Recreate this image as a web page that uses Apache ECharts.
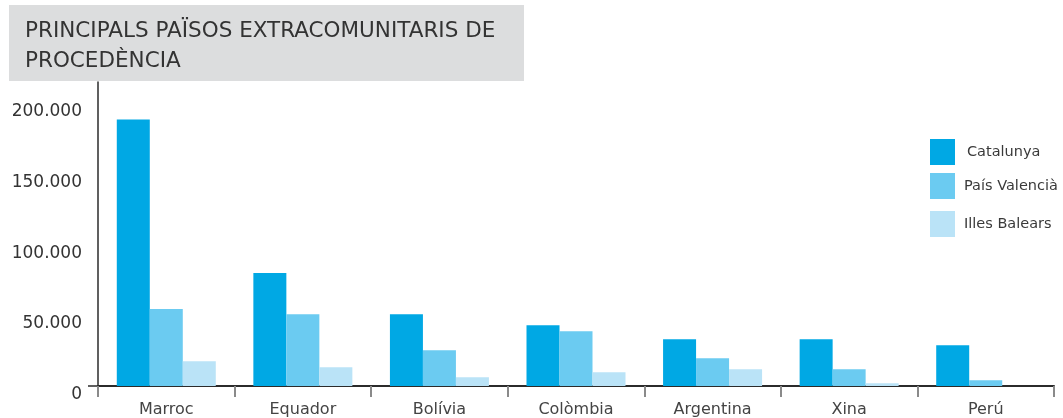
<!DOCTYPE html>
<html>
<head>
<meta charset="utf-8">
<script src="https://cdn.jsdelivr.net/npm/echarts@6/dist/echarts.min.js"></script>
<style>
  html, body { margin: 0; padding: 0; background: #fff; }
  #chart { width: 1063px; height: 418px; }
</style>
</head>
<body>
<div id="chart"></div>
<script>
// countries (categories)
const countries = ['Marroc', 'Equador', 'Bolívia', 'Colòmbia', 'Argentina', 'Xina', 'Perú'];
// values
const catalunya = [188400, 79900, 50800, 43000, 33100, 33100, 28900];
const paisValencia = [54400, 50800, 25300, 38800, 19600, 11800, 4000];
const illesBalears = [17500, 13300, 6200, 9700, 11800, 1900, 0];
const yTicks = [0, 50000, 100000, 150000, 200000];

const titleLines = ['PRINCIPALS PAÏSOS EXTRACOMUNITARIS DE', 'PROCEDÈNCIA'];
const colors = ['#00a8e4', '#6bcbf1', '#bae3f7'];
const font = 'DejaVu Sans';

const chart = echarts.init(document.getElementById('chart'));

function fmt(v) {
  return String(v).replace(/\B(?=(\d{3})+(?!\d))/g, '.');
}

const legendTops = [139, 173, 211];
const legendPad = [7, 4, 4];
const seriesNames = ['Catalunya', 'País Valencià', 'Illes Balears'];

const option = {
  animation: false,
  grid: { left: 98, right: 9, top: 82, bottom: 32, containLabel: false },
  legend: seriesNames.map((n, i) => ({
    data: [n],
    left: 930,
    top: legendTops[i],
    orient: 'vertical',
    icon: 'rect',
    itemWidth: 25,
    itemHeight: 26,
    padding: 0,
    textStyle: { fontFamily: font, fontSize: 14.5, color: '#3a3a3a', padding: [0, 0, 0, legendPad[i]] }
  })),
  xAxis: {
    type: 'category',
    data: countries,
    axisLine: { lineStyle: { color: '#2b2b2b', width: 2 } },
    axisTick: { show: true, alignWithLabel: false, length: 11, lineStyle: { color: '#8a8a8a', width: 2 } },
    axisLabel: { fontFamily: font, fontSize: 16, color: '#444', margin: 16 }
  },
  yAxis: {
    type: 'value',
    min: 0,
    max: 215000,
    interval: 50000,
    axisLine: { show: true, lineStyle: { color: '#2b2b2b', width: 1.5 } },
    axisTick: { show: false },
    splitLine: { show: false },
    axisLabel: {
      fontFamily: font, fontSize: 17, color: '#333', margin: 16,
      verticalAlign: 'top',
      showMaxLabel: false,
      formatter: v => (yTicks.indexOf(v) >= 0 ? fmt(v) : '')
    }
  },
  series: [
    { name: seriesNames[0], type: 'bar', data: catalunya, barWidth: 33, barGap: 0, itemStyle: { color: colors[0] } },
    { name: seriesNames[1], type: 'bar', data: paisValencia, barWidth: 33, barGap: 0, itemStyle: { color: colors[1] } },
    { name: seriesNames[2], type: 'bar', data: illesBalears, barWidth: 33, barGap: 0, itemStyle: { color: colors[2] } }
  ],
  graphic: [
    { type: 'rect', left: 9, top: 5, shape: { width: 515, height: 76 }, style: { fill: '#dcddde' } },
    { type: 'text', left: 25, top: 20, style: { text: titleLines[0], font: '21.5px "DejaVu Sans"', fill: '#333' } },
    { type: 'text', left: 25, top: 50, style: { text: titleLines[1], font: '21.5px "DejaVu Sans"', fill: '#333' } },
    // little stub left of the y axis at zero
    { type: 'line', shape: { x1: 88, y1: 386, x2: 98, y2: 386 }, style: { stroke: '#2b2b2b', lineWidth: 1.5 } }
  ]
};

chart.setOption(option);
</script>
</body>
</html>
